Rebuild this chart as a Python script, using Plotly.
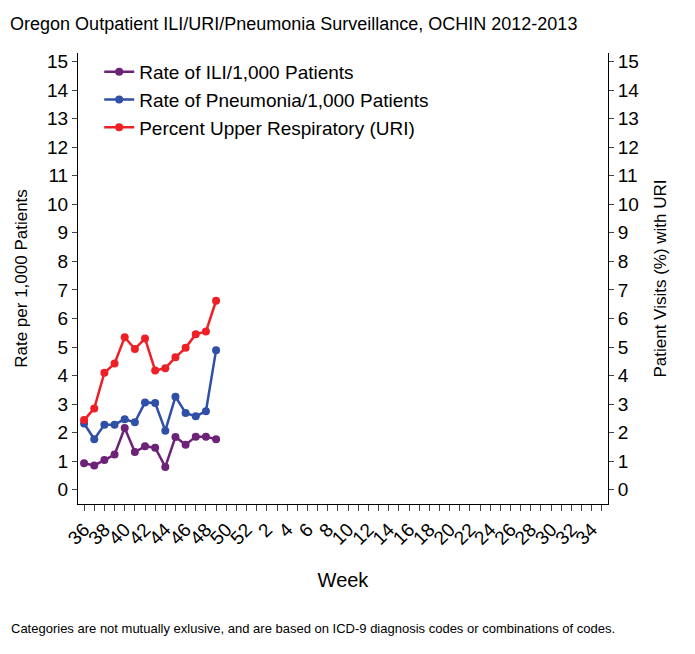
import plotly.graph_objects as go

# Week sequence: 36..52 then 1..35
weeks = list(range(36, 53)) + list(range(1, 36))
week_labels = [str(w) if w % 2 == 0 else '' for w in weeks]

data_weeks = list(range(36, 50))
ili_rate = [0.93, 0.85, 1.04, 1.23, 2.16, 1.32, 1.52, 1.47, 0.80, 1.85, 1.58, 1.86, 1.86, 1.77]
pneumonia_rate = [2.32, 1.77, 2.28, 2.28, 2.47, 2.36, 3.06, 3.04, 2.07, 3.26, 2.69, 2.57, 2.75, 4.89]
uri_pct = [2.44, 2.85, 4.10, 4.42, 5.34, 4.93, 5.30, 4.18, 4.26, 4.64, 4.97, 5.45, 5.54, 6.62]

x_idx = list(range(len(weeks)))
data_x = [weeks.index(w) for w in data_weeks]

fig = go.Figure()
series = [
    ('Rate of ILI/1,000 Patients', ili_rate, '#6c2277'),
    ('Rate of Pneumonia/1,000 Patients', pneumonia_rate, '#3050a8'),
    ('Percent Upper Respiratory (URI)', uri_pct, '#ee2026'),
]
for name, vals, col in series:
    fig.add_trace(go.Scatter(x=data_x, y=vals, name=name, mode='lines+markers',
                             line=dict(color=col, width=2.5), marker=dict(color=col, size=8)))
# invisible trace to show right axis
fig.add_trace(go.Scatter(x=[0], y=[0], yaxis='y2', showlegend=False,
                         mode='markers', marker=dict(opacity=0), hoverinfo='skip'))

tickfont = dict(size=19, color='black', family='Arial, Liberation Sans')
fig.update_layout(
    width=695, height=654, template='plotly_white',
    font=dict(family='Arial, Liberation Sans', color='black'),
    margin=dict(l=68, r=95, t=45, b=158),
    title=dict(text='Oregon Outpatient ILI/URI/Pneumonia Surveillance, OCHIN 2012-2013',
               x=0.003, xanchor='left', y=0.985, font=dict(size=18)),
    showlegend=True,
    legend=dict(x=0.04, y=1.0, xanchor='left', yanchor='top', font=dict(size=19),
                bgcolor='rgba(0,0,0,0)', tracegroupgap=0),
    xaxis=dict(tickmode='array', tickvals=x_idx, ticktext=week_labels, range=[-0.6, len(weeks) - 0.4],
               tickangle=-45, tickfont=tickfont, showgrid=False, showline=True, linecolor='black',
               ticks='outside', ticklen=6, zeroline=False, mirror=False,
               title=dict(text='Week', font=dict(size=20), standoff=25)),
    yaxis=dict(range=[-0.5, 15.3], dtick=1, tickfont=tickfont, showgrid=False, showline=True,
               linecolor='black', ticks='outside', zeroline=False,
               title=dict(text='Rate per 1,000 Patients', font=dict(size=17))),
    yaxis2=dict(range=[-0.5, 15.3], dtick=1, tickfont=tickfont, showgrid=False, showline=True,
                linecolor='black', ticks='outside', zeroline=False, overlaying='y', side='right',
                title=dict(text='Patient Visits (%) with URI', font=dict(size=17))),
)
fig.add_annotation(text='Categories are not mutually exlusive, and are based on ICD-9 diagnosis codes or combinations of codes.',
                   xref='paper', yref='paper', x=-0.13, y=-0.255, xanchor='left', yanchor='top',
                   showarrow=False, font=dict(size=13))
fig.write_html('out.html')
